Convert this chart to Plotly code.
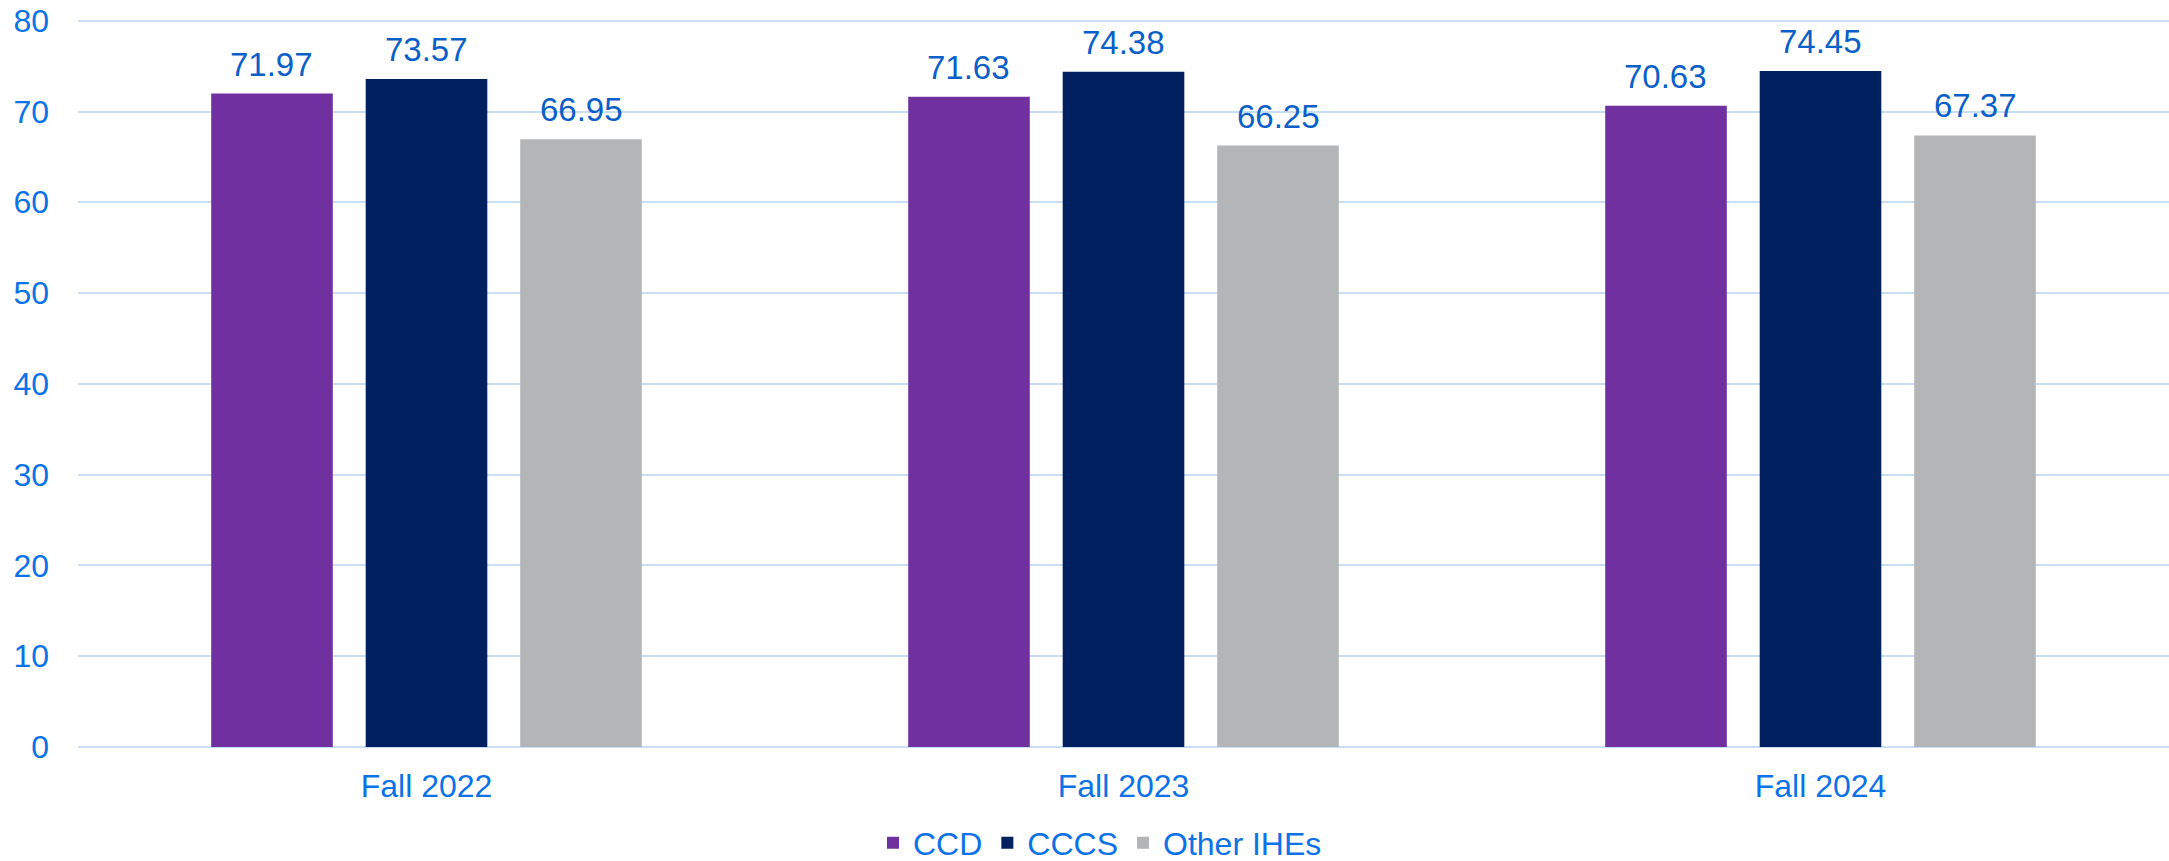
import plotly.graph_objects as go

# datos
periodos = ["Fall 2022", "Fall 2023", "Fall 2024"]
series = ["CCD", "CCCS", "Other IHEs"]
ccd = [71.97, 71.63, 70.63]
cccs = [73.57, 74.38, 74.45]
otras = [66.95, 66.25, 67.37]

valores = [ccd, cccs, otras]
colores = ["#7030A0", "#002060", "#B4B5B7"]

azul_ejes = "#0B72E7"
azul_etiq = "#0A5FC8"
fuente = "Liberation Sans, Arial, sans-serif"

W, H = 2169, 861
m_l, m_r, m_t, m_b = 78, 0, 18, 114

fig = go.Figure()
for nombre, vals, col in zip(series, valores, colores):
    fig.add_trace(go.Bar(x=periodos, y=vals, name=nombre, marker_color=col,
                         marker_line_width=0, hoverinfo="x+y+name"))

# ancho de cada hueco de barra en pixeles (para ubicar las etiquetas)
ancho_cat = (W - m_l - m_r) / len(periodos)
bargap = 0.335
slot = ancho_cat * (1 - bargap) / len(series)

anot = []
for i, vals in enumerate(valores):
    for p, v in zip(periodos, vals):
        anot.append(dict(x=p, y=v, xref="x", yref="y", text=f"{v:.2f}",
                         showarrow=False, yanchor="bottom", yshift=9,
                         xshift=(i - 1) * slot,
                         font=dict(family=fuente, size=33, color=azul_etiq)))

fig.update_layout(
    width=W, height=H,
    margin=dict(l=m_l, r=m_r, t=m_t, b=m_b, autoexpand=False),
    paper_bgcolor="white", plot_bgcolor="white",
    barmode="group", bargap=bargap, bargroupgap=0.213,
    font=dict(family=fuente, size=32, color=azul_ejes),
    annotations=anot,
    showlegend=True,
    legend=dict(orientation="h", xref="container", x=1100 / W, xanchor="center",
                yref="container", y=1 - 843 / H, yanchor="middle",
                font=dict(family=fuente, size=32, color=azul_ejes),
                itemwidth=30, traceorder="normal"),
)
fig.update_yaxes(range=[0, 80.3], tickvals=list(range(0, 81, 10)), showgrid=True,
                 gridcolor="#C8DDF6", gridwidth=2,
                 zeroline=True, zerolinecolor="#C8DDF6", zerolinewidth=2,
                 showline=False, ticks="", ticklabelstandoff=28,
                 ticklabeloverflow="allow",
                 tickfont=dict(family=fuente, size=32, color=azul_ejes))
fig.update_xaxes(showgrid=False, showline=False, ticks="", ticklabelstandoff=17,
                 tickfont=dict(family=fuente, size=32, color=azul_ejes))

# quitar el margen del body para que el grafico ocupe toda la ventana
fig.write_html("out.html", config={"displayModeBar": False},
               post_script="document.body.style.margin='0';")
